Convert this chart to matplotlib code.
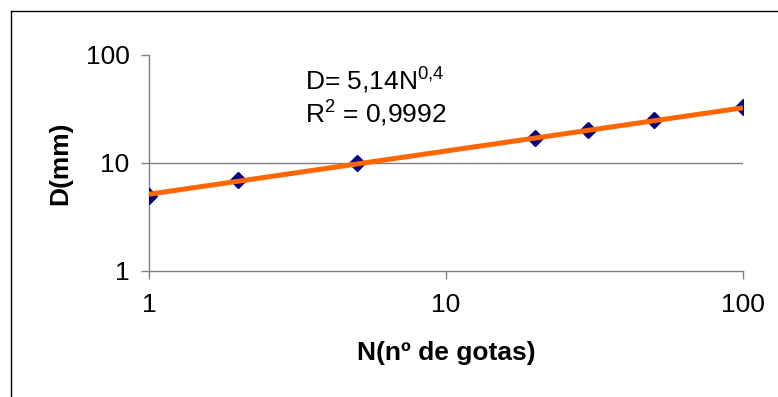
import numpy as np
import matplotlib
matplotlib.use("Agg")
import matplotlib.pyplot as plt
from matplotlib.lines import Line2D

plt.rcParams['font.family'] = ['Liberation Sans', 'DejaVu Sans']
plt.rcParams['mathtext.fontset'] = 'custom'
plt.rcParams['mathtext.rm'] = 'Liberation Sans'

# data
n_gotas = np.array([1, 2, 5, 20, 30, 50, 100])
d_mm = np.array([5, 7, 10, 17, 20, 25, 33])

# power trend line D = a * N^b
fit_a = 5.14
fit_b = 0.4
fit_r2 = "0,9992"
trend = fit_a * n_gotas ** fit_b

fig = plt.figure(figsize=(7.78, 3.97), dpi=100)
ax = fig.add_axes([149/778, 1 - 271/397, (743 - 149)/778, (271 - 55)/397])

gray = '#808080'
ax.axhline(10, color=gray, lw=1, zorder=1)
ax.plot(n_gotas, d_mm, linestyle='none', marker='D', markersize=8,
        color='#000080', zorder=2)
ax.plot(n_gotas, trend, color='#FF6600', lw=3.6, solid_capstyle='butt', zorder=3)

ax.set_xscale('log')
ax.set_yscale('log')
ax.set_xlim(1, 100)
ax.set_ylim(1, 100)
ax.set_xticks([1, 10, 100])
ax.set_xticklabels(['1', '10', '100'])
ax.set_yticks([1, 10, 100])
ax.set_yticklabels(['1', '10', '100'])
ax.minorticks_off()

for s in ['top', 'right']:
    ax.spines[s].set_visible(False)
for s in ['left', 'bottom']:
    ax.spines[s].set_color(gray)
    ax.spines[s].set_linewidth(1)
ax.spines['left'].set_zorder(0)

ax.tick_params(axis='both', direction='out', length=6, width=1, color=gray,
               labelsize=19, labelcolor='black')
ax.tick_params(axis='x', pad=10)
ax.tick_params(axis='y', pad=8)

ax.set_xlabel('N(nº de gotas)', fontsize=19, fontweight='bold')
ax.set_ylabel('D(mm)', fontsize=19, fontweight='bold')
ax.xaxis.set_label_coords(0.5, -0.325)
ax.yaxis.set_label_coords(-0.13, 0.5)

fig.text(305/778, 1 - 90/397, 'D= 5,14N$\\mathregular{^{0{,}4}}$',
         fontsize=19, va='baseline', ha='left')
fig.text(305/778, 1 - 123/397, 'R$\\mathregular{^2}$ = ' + fit_r2,
         fontsize=19, va='baseline', ha='left')

# outer chart frame (only top and left edges are visible)
fig.add_artist(Line2D([11/778, 1], [1 - 11/397, 1 - 11/397], color='black', lw=1))
fig.add_artist(Line2D([11/778, 11/778], [0, 1 - 11/397], color='black', lw=1))

fig.savefig('out.png', dpi=100)
